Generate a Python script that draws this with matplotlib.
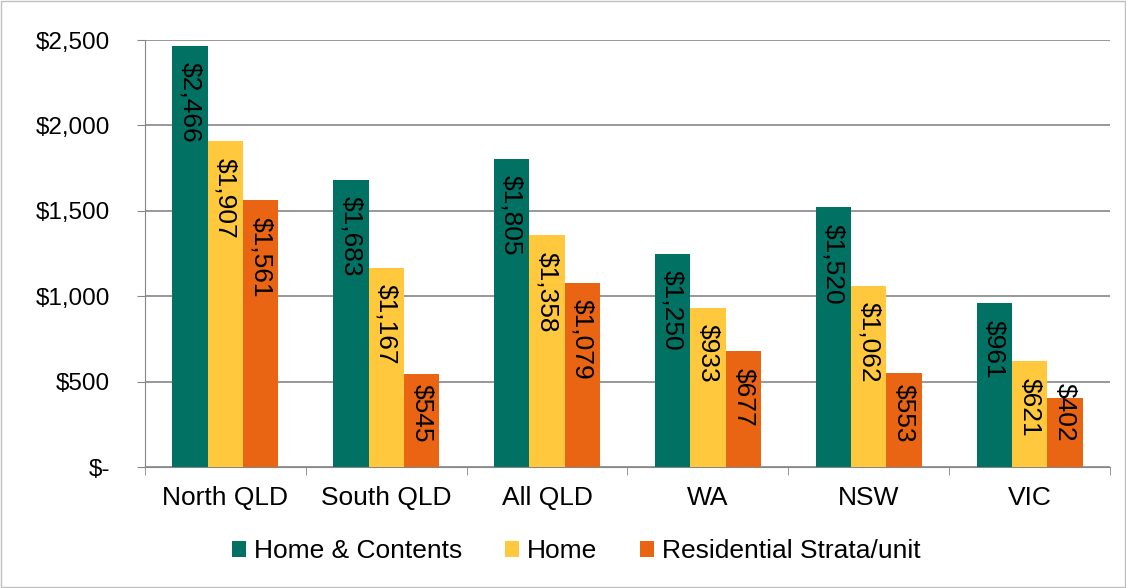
import matplotlib.pyplot as plt
import numpy as np

plt.rcParams['font.family'] = ['Liberation Sans', 'DejaVu Sans']

regions = ['North QLD', 'South QLD', 'All QLD', 'WA', 'NSW', 'VIC']
home_contents = [2466, 1683, 1805, 1250, 1520, 961]
home = [1907, 1167, 1358, 933, 1062, 621]
strata = [1561, 545, 1079, 677, 553, 402]
series_names = ['Home & Contents', 'Home', 'Residential Strata/unit']
colors = ['#007163', '#FFC83D', '#E96514']
yticks = [0, 500, 1000, 1500, 2000, 2500]

fig = plt.figure(figsize=(11.26, 5.88), dpi=100)
ax = fig.add_axes([145 / 1126, 1 - 467 / 588, (1110 - 145) / 1126, (467 - 40) / 588])

# 图形外框
fig.patches.append(plt.Rectangle((0.001, 0.001), 0.998, 0.997, transform=fig.transFigure,
                                 fill=False, edgecolor='#BFBFBF', linewidth=1))

x = np.arange(len(regions))
w = 0.22
labels = []
for i, (vals, name, c) in enumerate(zip([home_contents, home, strata], series_names, colors)):
    pos = x + (i - 1) * w
    bars = ax.bar(pos, vals, width=w, color=c, label=name, zorder=3)
    for b, v in zip(bars, vals):
        t = ax.annotate(f'${v:,}', (b.get_x() + b.get_width() / 2, v), xytext=(0, -12),
                        textcoords='offset points', rotation=270, ha='center', va='top',
                        fontsize=19, color='black', zorder=4)
        labels.append(t)

ax.set_xlim(-0.5, len(regions) - 0.5)
ax.set_ylim(0, 2500)
ax.set_yticks(yticks)
ax.set_yticklabels(['$-' if v == 0 else f'${v:,}' for v in yticks], fontsize=17.5)
ax.set_xticks(x)
ax.set_xticklabels(regions, fontsize=19)
ax.tick_params(axis='x', length=0, pad=14)
ax.set_xticks(np.arange(-0.5, len(regions)), minor=True)
ax.tick_params(axis='x', which='minor', length=6, color='#868686')
ax.tick_params(axis='y', length=6, color='#868686', pad=19)

ax.grid(axis='y', color='#868686', linewidth=1.2, zorder=0)
for s in ['top', 'right']:
    ax.spines[s].set_visible(False)
ax.spines['left'].set_color('#868686')
ax.spines['bottom'].set_color('#868686')

ax.legend(loc='center', bbox_to_anchor=(0.447, -0.197), ncol=3, frameon=False,
          fontsize=19, handlelength=0.55, handleheight=0.55, handletextpad=0.3,
          columnspacing=1.6)

# 标签放不下时向上挪，保证离底部约25像素
fig.canvas.draw()
r = fig.canvas.get_renderer()
y0_px = ax.transData.transform((0, 0))[1]
for t in labels:
    bb = t.get_window_extent(r)
    lift = (y0_px + 25) - bb.y0
    if lift > 0:
        ox, oy = t.xyann
        t.xyann = (ox, oy + lift * 72 / fig.dpi)

plt.savefig('out.png', dpi=100)
